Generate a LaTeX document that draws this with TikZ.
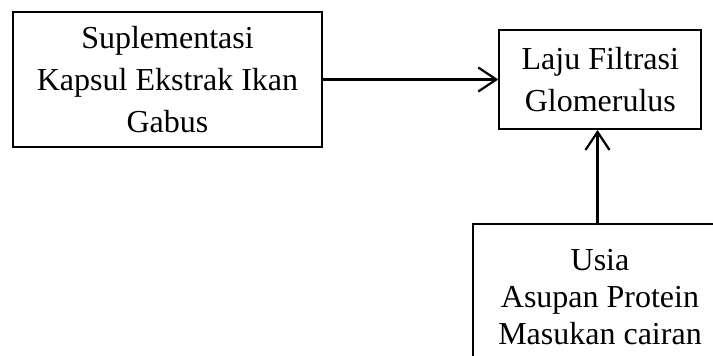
\documentclass[tikz,border=0pt]{standalone}
\usepackage{fontspec}
\setmainfont{Liberation Serif}
\usetikzlibrary{arrows.meta}
\begin{document}
\begin{tikzpicture}[x=1pt,y=-1pt,
  box/.style={draw,line width=2pt,align=center,inner sep=0pt,
    font=\fontsize{32}{42}\selectfont},
  conn/.style={line width=2.2pt,-{Straight Barb[length=18pt,width=24pt,line width=2.2pt]}}]
\clip (0,0) rectangle (713,356);
\useasboundingbox (0,0) rectangle (713,356);
\node[box,minimum width=309pt,minimum height=135pt] (sup) at (167.5,79.5)
  {Suplementasi\\Kapsul Ekstrak Ikan\\Gabus};
\node[box,minimum width=202pt,minimum height=99pt] (lfg) at (600.3,79.5)
  {Laju Filtrasi\\Glomerulus};
\node[box,minimum width=254pt,minimum height=146pt,
  font=\fontsize{32}{37}\selectfont] (fak) at (600,296.7)
  {Usia\\Asupan Protein\\Masukan cairan};
\coordinate (top) at (597.5,223.7);
\draw[conn] (sup.east) -- (lfg.west);
\draw[conn] (top) -- (top |- lfg.south);
\end{tikzpicture}
\end{document}
